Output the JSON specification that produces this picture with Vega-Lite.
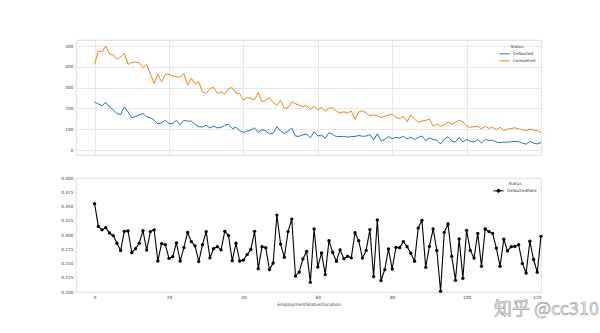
{
"$schema": "https://vega.github.io/schema/vega-lite/v6.json",
"background": "white",
"padding": {"left": 55, "top": 39, "right": 5, "bottom": 5},
"spacing": 23,
"bounds": "flush",
"config": {
 "font": "DejaVu Sans",
 "view": {"stroke": "#d4d4d4", "strokeWidth": 0.8},
 "axis": {"labelFont": "DejaVu Sans", "labelFontSize": 4.3, "labelColor": "#3a3a3a", "labelOverlap": false, "titleFont": "DejaVu Sans", "titleFontSize": 4.6, "titleFontWeight": "normal", "titleColor": "#3a3a3a", "domain": false, "ticks": false, "gridColor": "#e2e2e2", "gridWidth": 0.8},
 "legend": {"labelFont": "DejaVu Sans", "labelFontSize": 4.1, "labelColor": "#3a3a3a", "titleFont": "DejaVu Sans", "titleFontSize": 4.1, "titleFontWeight": "normal", "titleColor": "#3a3a3a", "titleAnchor": "middle", "titlePadding": 1.5, "rowPadding": 0, "clipHeight": 6.5, "labelOffset": 3}
},
"datasets": {"d": [
{"x":0,"Defaulted":231,"Completed":412,"DefaultedRate":0.355},
{"x":1,"Defaulted":221,"Completed":476,"DefaultedRate":0.315},
{"x":2,"Defaulted":213,"Completed":471,"DefaultedRate":0.309},
{"x":3,"Defaulted":229,"Completed":500,"DefaultedRate":0.313},
{"x":4,"Defaulted":207,"Completed":463,"DefaultedRate":0.3035},
{"x":5,"Defaulted":194,"Completed":457,"DefaultedRate":0.299},
{"x":6,"Defaulted":175,"Completed":436,"DefaultedRate":0.2855},
{"x":7,"Defaulted":171,"Completed":447,"DefaultedRate":0.273},
{"x":8,"Defaulted":207,"Completed":465,"DefaultedRate":0.3065},
{"x":9,"Defaulted":183,"Completed":412,"DefaultedRate":0.307},
{"x":10,"Defaulted":155,"Completed":420,"DefaultedRate":0.269},
{"x":11,"Defaulted":162,"Completed":423,"DefaultedRate":0.276},
{"x":12,"Defaulted":168,"Completed":420,"DefaultedRate":0.2855},
{"x":13,"Defaulted":176,"Completed":396,"DefaultedRate":0.3077},
{"x":14,"Defaulted":160,"Completed":412,"DefaultedRate":0.2737},
{"x":15,"Defaulted":155,"Completed":364,"DefaultedRate":0.306},
{"x":16,"Defaulted":144,"Completed":320,"DefaultedRate":0.309},
{"x":17,"Defaulted":125,"Completed":364,"DefaultedRate":0.2544},
{"x":18,"Defaulted":131,"Completed":328,"DefaultedRate":0.285},
{"x":19,"Defaulted":143,"Completed":364,"DefaultedRate":0.283},
{"x":20,"Defaulted":127,"Completed":364,"DefaultedRate":0.259},
{"x":21,"Defaulted":127,"Completed":356,"DefaultedRate":0.262},
{"x":22,"Defaulted":143,"Completed":352,"DefaultedRate":0.2862},
{"x":23,"Defaulted":120,"Completed":352,"DefaultedRate":0.2544},
{"x":24,"Defaulted":143,"Completed":367,"DefaultedRate":0.278},
{"x":25,"Defaulted":139,"Completed":312,"DefaultedRate":0.3047},
{"x":26,"Defaulted":139,"Completed":344,"DefaultedRate":0.2884},
{"x":27,"Defaulted":123,"Completed":319,"DefaultedRate":0.281},
{"x":28,"Defaulted":112,"Completed":328,"DefaultedRate":0.2533},
{"x":29,"Defaulted":111,"Completed":279,"DefaultedRate":0.283},
{"x":30,"Defaulted":119,"Completed":272,"DefaultedRate":0.306},
{"x":31,"Defaulted":106,"Completed":296,"DefaultedRate":0.26},
{"x":32,"Defaulted":115,"Completed":300,"DefaultedRate":0.276},
{"x":33,"Defaulted":107,"Completed":274,"DefaultedRate":0.2796},
{"x":34,"Defaulted":108,"Completed":279,"DefaultedRate":0.274},
{"x":35,"Defaulted":120,"Completed":268,"DefaultedRate":0.3065},
{"x":36,"Defaulted":123,"Completed":296,"DefaultedRate":0.299},
{"x":37,"Defaulted":103,"Completed":300,"DefaultedRate":0.255},
{"x":38,"Defaulted":109,"Completed":274,"DefaultedRate":0.2855},
{"x":39,"Defaulted":93,"Completed":271,"DefaultedRate":0.2544},
{"x":40,"Defaulted":84,"Completed":240,"DefaultedRate":0.256},
{"x":41,"Defaulted":91,"Completed":252,"DefaultedRate":0.2656},
{"x":42,"Defaulted":96,"Completed":247,"DefaultedRate":0.2746},
{"x":43,"Defaulted":107,"Completed":242,"DefaultedRate":0.3065},
{"x":44,"Defaulted":85,"Completed":276,"DefaultedRate":0.241},
{"x":45,"Defaulted":98,"Completed":232,"DefaultedRate":0.2796},
{"x":46,"Defaulted":91,"Completed":240,"DefaultedRate":0.2778},
{"x":47,"Defaulted":77,"Completed":252,"DefaultedRate":0.2393},
{"x":48,"Defaulted":80,"Completed":228,"DefaultedRate":0.2509},
{"x":49,"Defaulted":112,"Completed":216,"DefaultedRate":0.335},
{"x":50,"Defaulted":91,"Completed":239,"DefaultedRate":0.284},
{"x":51,"Defaulted":79,"Completed":200,"DefaultedRate":0.261},
{"x":52,"Defaulted":91,"Completed":204,"DefaultedRate":0.306},
{"x":53,"Defaulted":105,"Completed":231,"DefaultedRate":0.328},
{"x":54,"Defaulted":67,"Completed":223,"DefaultedRate":0.228},
{"x":55,"Defaulted":66,"Completed":216,"DefaultedRate":0.235},
{"x":56,"Defaulted":73,"Completed":208,"DefaultedRate":0.258},
{"x":57,"Defaulted":77,"Completed":215,"DefaultedRate":0.2714},
{"x":58,"Defaulted":58,"Completed":194,"DefaultedRate":0.217},
{"x":59,"Defaulted":88,"Completed":210,"DefaultedRate":0.3105},
{"x":60,"Defaulted":67,"Completed":191,"DefaultedRate":0.2439},
{"x":61,"Defaulted":72,"Completed":205,"DefaultedRate":0.2684},
{"x":62,"Defaulted":57,"Completed":187,"DefaultedRate":0.2305},
{"x":63,"Defaulted":83,"Completed":200,"DefaultedRate":0.29},
{"x":64,"Defaulted":75,"Completed":205,"DefaultedRate":0.2693},
{"x":65,"Defaulted":64,"Completed":187,"DefaultedRate":0.254},
{"x":66,"Defaulted":65,"Completed":178,"DefaultedRate":0.274},
{"x":67,"Defaulted":65,"Completed":184,"DefaultedRate":0.2586},
{"x":68,"Defaulted":62,"Completed":178,"DefaultedRate":0.2626},
{"x":69,"Defaulted":65,"Completed":187,"DefaultedRate":0.26},
{"x":70,"Defaulted":65,"Completed":147,"DefaultedRate":0.304},
{"x":71,"Defaulted":70,"Completed":183,"DefaultedRate":0.29},
{"x":72,"Defaulted":66,"Completed":189,"DefaultedRate":0.2595},
{"x":73,"Defaulted":67,"Completed":178,"DefaultedRate":0.273},
{"x":74,"Defaulted":74,"Completed":165,"DefaultedRate":0.3095},
{"x":75,"Defaulted":49,"Completed":168,"DefaultedRate":0.227},
{"x":76,"Defaulted":78,"Completed":165,"DefaultedRate":0.3263},
{"x":77,"Defaulted":44,"Completed":157,"DefaultedRate":0.22},
{"x":78,"Defaulted":51,"Completed":162,"DefaultedRate":0.2393},
{"x":79,"Defaulted":64,"Completed":168,"DefaultedRate":0.2755},
{"x":80,"Defaulted":55,"Completed":173,"DefaultedRate":0.2403},
{"x":81,"Defaulted":61,"Completed":157,"DefaultedRate":0.2784},
{"x":82,"Defaulted":58,"Completed":152,"DefaultedRate":0.2778},
{"x":83,"Defaulted":66,"Completed":162,"DefaultedRate":0.2884},
{"x":84,"Defaulted":53,"Completed":136,"DefaultedRate":0.2796},
{"x":85,"Defaulted":62,"Completed":168,"DefaultedRate":0.268},
{"x":86,"Defaulted":51,"Completed":149,"DefaultedRate":0.254},
{"x":87,"Defaulted":60,"Completed":133,"DefaultedRate":0.3123},
{"x":88,"Defaulted":68,"Completed":140,"DefaultedRate":0.3258},
{"x":89,"Defaulted":46,"Completed":142,"DefaultedRate":0.2433},
{"x":90,"Defaulted":58,"Completed":149,"DefaultedRate":0.28},
{"x":91,"Defaulted":51,"Completed":114,"DefaultedRate":0.3105},
{"x":92,"Defaulted":47,"Completed":125,"DefaultedRate":0.273},
{"x":93,"Defaulted":29,"Completed":114,"DefaultedRate":0.2012},
{"x":94,"Defaulted":53,"Completed":120,"DefaultedRate":0.3047},
{"x":95,"Defaulted":64,"Completed":136,"DefaultedRate":0.3193},
{"x":96,"Defaulted":44,"Completed":123,"DefaultedRate":0.2626},
{"x":97,"Defaulted":38,"Completed":133,"DefaultedRate":0.2205},
{"x":98,"Defaulted":60,"Completed":144,"DefaultedRate":0.293},
{"x":99,"Defaulted":39,"Completed":136,"DefaultedRate":0.224},
{"x":100,"Defaulted":51,"Completed":114,"DefaultedRate":0.3082},
{"x":101,"Defaulted":41,"Completed":109,"DefaultedRate":0.273},
{"x":102,"Defaulted":39,"Completed":112,"DefaultedRate":0.2595},
{"x":103,"Defaulted":50,"Completed":114,"DefaultedRate":0.303},
{"x":104,"Defaulted":33,"Completed":101,"DefaultedRate":0.245},
{"x":105,"Defaulted":51,"Completed":114,"DefaultedRate":0.3105},
{"x":106,"Defaulted":46,"Completed":104,"DefaultedRate":0.306},
{"x":107,"Defaulted":47,"Completed":109,"DefaultedRate":0.303},
{"x":108,"Defaulted":38,"Completed":98,"DefaultedRate":0.277},
{"x":109,"Defaulted":35,"Completed":109,"DefaultedRate":0.245},
{"x":110,"Defaulted":38,"Completed":93,"DefaultedRate":0.2925},
{"x":111,"Defaulted":38,"Completed":101,"DefaultedRate":0.272},
{"x":112,"Defaulted":40,"Completed":104,"DefaultedRate":0.2796},
{"x":113,"Defaulted":42,"Completed":107,"DefaultedRate":0.28},
{"x":114,"Defaulted":40,"Completed":101,"DefaultedRate":0.283},
{"x":115,"Defaulted":33,"Completed":98,"DefaultedRate":0.2498},
{"x":116,"Defaulted":28,"Completed":93,"DefaultedRate":0.2333},
{"x":117,"Defaulted":41,"Completed":101,"DefaultedRate":0.289},
{"x":118,"Defaulted":33,"Completed":95,"DefaultedRate":0.257},
{"x":119,"Defaulted":29,"Completed":93,"DefaultedRate":0.2346},
{"x":120,"Defaulted":36,"Completed":85,"DefaultedRate":0.2977}
]},
"vconcat": [
 {
  "width": 465, "height": 115,
  "data": {"name": "d"},
  "transform": [{"fold": ["Defaulted", "Completed"], "as": ["Status", "Count"]}],
  "mark": {"type": "line", "strokeWidth": 1},
  "encoding": {
   "x": {"field": "x", "type": "quantitative", "scale": {"domain": [-5, 120], "nice": false, "zero": false}, "axis": {"values": [0, 20, 40, 60, 80, 100, 120], "labels": false, "title": null, "grid": true, "minExtent": 0, "maxExtent": 0}},
   "y": {"field": "Count", "type": "quantitative", "scale": {"domain": [-24, 529], "nice": false, "zero": false}, "axis": {"values": [0, 100, 200, 300, 400, 500], "title": null, "grid": true, "labelPadding": 3, "labelOverlap": false, "minExtent": 20, "maxExtent": 20}},
   "color": {"field": "Status", "type": "nominal", "sort": ["Defaulted", "Completed"], "scale": {"domain": ["Defaulted", "Completed"], "range": ["#1f77b4", "#ff7f0e"]}, "legend": {"orient": "top-right", "offset": 5, "title": "Status", "symbolType": "stroke", "symbolSize": 100, "symbolStrokeWidth": 1}}
  }
 },
 {
  "width": 465, "height": 114,
  "resolve": {"scale": {"x": "independent", "y": "independent"}},
  "layer": [
   {
    "data": {"name": "d"},
    "transform": [{"fold": ["DefaultedRate"], "as": ["Status", "Rate"]}],
    "mark": {"type": "line", "strokeWidth": 1.1, "point": {"filled": true, "size": 11}},
    "encoding": {
     "x": {"field": "x", "type": "quantitative", "scale": {"domain": [-5, 120], "nice": false, "zero": false}, "axis": {"values": [0, 20, 40, 60, 80, 100, 120], "title": "EmploymentStatusDuration", "grid": false, "labelOverlap": false, "labelPadding": 3, "titlePadding": 2, "zindex": 2}},
     "y": {"field": "Rate", "type": "quantitative", "scale": {"domain": [0.2, 0.4], "nice": false, "zero": false}, "axis": {"values": [0.2, 0.225, 0.25, 0.275, 0.3, 0.325, 0.35, 0.375, 0.4], "format": ".3f", "title": null, "grid": false, "labelOverlap": false, "labelPadding": 3, "minExtent": 20, "maxExtent": 20}},
     "color": {"field": "Status", "type": "nominal", "scale": {"domain": ["DefaultedRate"], "range": ["#000000"]}, "legend": {"orient": "top-right", "offset": 4, "title": "Status", "symbolType": "M-1,0L1,0M0.3,0A0.3,0.3,0,1,1,-0.3,0A0.3,0.3,0,1,1,0.3,0Z", "symbolSize": 100, "symbolStrokeWidth": 1, "symbolFillColor": "#000000", "symbolStrokeColor": "#000000"}}
    }
   },
   {
    "data": {"values": [{"x": 120, "y": 0.168, "t": "知乎 @cc310"}]},
    "mark": {"type": "text", "font": "Noto Sans CJK SC", "fontSize": 18, "align": "right", "baseline": "middle", "dx": 58, "fill": "#f2f2f2", "stroke": "#9a9a9a", "strokeWidth": 0.6},
    "encoding": {
     "x": {"field": "x", "type": "quantitative", "scale": {"domain": [-5, 120], "nice": false, "zero": false}, "axis": null},
     "y": {"field": "y", "type": "quantitative", "scale": {"domain": [0.2, 0.4], "nice": false, "zero": false}, "axis": null},
     "text": {"field": "t", "type": "nominal"}
    }
   }
  ]
 }
],
"resolve": {"scale": {"color": "independent", "x": "independent", "y": "independent"}, "legend": {"color": "independent"}}
}
